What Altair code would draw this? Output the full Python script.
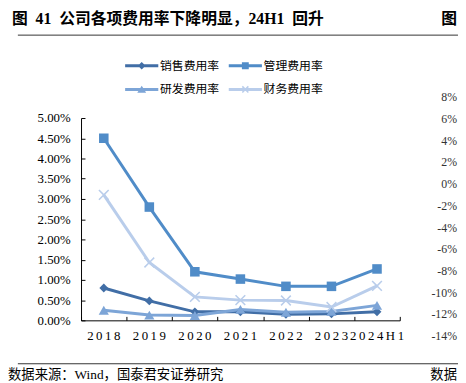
import altair as alt
import pandas as pd

# ---------------- data ----------------
years = ["2018", "2019", "2020", "2021", "2022", "2023", "2024H1"]
series_names = ["销售费用率", "管理费用率", "研发费用率", "财务费用率"]
sales_rate = [0.80, 0.48, 0.21, 0.21, 0.15, 0.16, 0.21]
admin_rate = [4.50, 2.80, 1.20, 1.02, 0.84, 0.84, 1.27]
rd_rate = [0.25, 0.13, 0.12, 0.27, 0.20, 0.22, 0.37]
fin_rate = [3.10, 1.43, 0.58, 0.50, 0.49, 0.33, 0.85]
y_tick_values = [0.0, 0.005, 0.01, 0.015, 0.02, 0.025, 0.03, 0.035, 0.04, 0.045, 0.05]
right_tick_values = [8, 6, 4, 2, 0, -2, -4, -6, -8, -10, -12, -14]
right_tick_labels = ["8%", "6%", "4%", "2%", "0%", "-2%", "-4%", "-6%", "-8%", "-10%", "-12%", "-14%"]
title_text = "图\u200241\u2002公司各项费用率下降明显，24H1\u2002回升"
source_text = "数据来源：Wind，国泰君安证券研究"

colors = ["#416EA6", "#508CC8", "#7DA5D7", "#B9CDEB"]


def x_path(a, t, s=1.0):
    pts = [(-a, -a + t), (-a + t, -a), (0, -t), (a - t, -a), (a, -a + t), (t, 0),
           (a, a - t), (a - t, a), (0, t), (-a + t, a), (-a, a - t), (-t, 0)]
    return "M" + "L".join(f"{x * s:.3f},{y * s:.3f}" for x, y in pts) + "Z"


cross_path = x_path(1.0, 0.2)
point_shapes = ["diamond", "square", "triangle-up", cross_path]
point_sizes = [80, 120, 100, 110]
bar = "M-2.8,-0.25L2.8,-0.25L2.8,0.25L-2.8,0.25Z"
legend_shapes = [
    bar + "M0,-0.65L0.65,0L0,0.65L-0.65,0Z",
    bar + "M-0.58,-0.58L0.58,-0.58L0.58,0.58L-0.58,0.58Z",
    bar + "M0,-0.62L0.75,0.55L-0.75,0.55Z",
    bar + x_path(0.6, 0.18),
]

rows = []
for name, vals in zip(series_names, [sales_rate, admin_rate, rd_rate, fin_rate]):
    for yr, v in zip(years, vals):
        rows.append({"year": yr, "series": name, "value": v / 100.0})
df = pd.DataFrame(rows)

PW, PH = 323, 205
LATIN = "Liberation Serif, Noto Sans CJK SC"

color_scale = alt.Scale(domain=series_names, range=colors)
x_scale = alt.Scale(type="band", domain=years, paddingInner=0, paddingOuter=0)
y_scale = alt.Scale(domain=[0, 0.05], nice=False, zero=True)

lines = alt.Chart(df).mark_line(strokeWidth=3).encode(
    x=alt.X("year:N", sort=years, scale=x_scale, bandPosition=0.5, title=None,
            axis=alt.Axis(orient="bottom", domain=True, domainColor="#000", domainWidth=1,
                          ticks=False, tickSize=0, labelPadding=9, labelAngle=0,
                          labelFont=LATIN, labelFontSize=13, labelColor="#000",
                          labelExpr="join(split(datum.label, ''), '\u2009')", grid=False)),
    y=alt.Y("value:Q", scale=y_scale, title=None,
            axis=alt.Axis(orient="left", values=y_tick_values, format=".2%", domain=True,
                          domainColor="#000", domainWidth=1, ticks=False, tickSize=0,
                          labelPadding=11, labelFont=LATIN, labelFontSize=13,
                          labelColor="#000", grid=False)),
    color=alt.Color("series:N", scale=color_scale, legend=None),
)

points = alt.Chart(df).mark_point(filled=True, opacity=1).encode(
    x=alt.X("year:N", sort=years, scale=x_scale, bandPosition=0.5, title=None,
            axis=alt.Axis(orient="top", offset=-PH, domain=False, labels=False, ticks=True,
                          tickSize=4, tickColor="#000", tickWidth=1, tickBand="extent",
                          grid=False)),
    y=alt.Y("value:Q", scale=y_scale, title=None,
            axis=alt.Axis(orient="right", offset=-PW, values=y_tick_values, domain=False,
                          labels=False, ticks=True, tickSize=4, tickColor="#000",
                          tickWidth=1, grid=False)),
    color=alt.Color("series:N", scale=color_scale, legend=None),
    shape=alt.Shape("series:N", scale=alt.Scale(domain=series_names, range=point_shapes), legend=None),
    size=alt.Size("series:N", scale=alt.Scale(domain=series_names, range=point_sizes), legend=None),
)

leg = alt.Legend(orient="none", legendX=55.5, legendY=-59, columns=2, direction="horizontal",
                 title=None, symbolSize=144, symbolStrokeWidth=0, labelOffset=12.5,
                 columnPadding=9, rowPadding=12, padding=0, labelFont="Noto Sans CJK SC",
                 labelFontSize=12, labelColor="#000", symbolOpacity=1)

legend_layer = alt.Chart(df).mark_point(filled=True).encode(
    color=alt.Color("series:N", scale=alt.Scale(domain=series_names, range=colors), legend=leg),
    shape=alt.Shape("series:N", scale=alt.Scale(domain=series_names, range=legend_shapes), legend=leg),
).transform_filter("false")

right_df = pd.DataFrame({"v": right_tick_values, "lab": right_tick_labels})
right_labels = alt.Chart(right_df).mark_text(align="right", baseline="middle", font=LATIN,
                                             fontSize=12, color="#333").encode(
    x=alt.value(381),
    y=alt.Y("v:Q", scale=alt.Scale(domain=[-12.545, 6.091], nice=False, zero=False), axis=None),
    text="lab:N",
)

one = pd.DataFrame({"t": [title_text]})
title_mark = alt.Chart(one).mark_text(align="left", baseline="middle", font=LATIN,
                                      fontSize=16, fontWeight="bold", color="#000").encode(
    x=alt.value(-70), y=alt.value(-100), text="t:N")
fig_right = alt.Chart(pd.DataFrame({"t": ["图"]})).mark_text(
    align="right", baseline="middle", font=LATIN, fontSize=16, fontWeight="bold",
    color="#000").encode(x=alt.value(381), y=alt.value(-100), text="t:N")
top_rule = alt.Chart(one).mark_rule(color="#333", strokeWidth=1).encode(
    x=alt.value(-64), x2=alt.value(382), y=alt.value(-84))
bottom_rule = alt.Chart(one).mark_rule(color="#333", strokeWidth=1).encode(
    x=alt.value(-64), x2=alt.value(382), y=alt.value(249))
source_mark = alt.Chart(pd.DataFrame({"t": [source_text]})).mark_text(
    align="left", baseline="middle", font=LATIN, fontSize=13.5, color="#000").encode(
    x=alt.value(-74), y=alt.value(260), text="t:N")
source_right = alt.Chart(pd.DataFrame({"t": ["数据"]})).mark_text(
    align="right", baseline="middle", font=LATIN, fontSize=13.5, color="#000").encode(
    x=alt.value(381), y=alt.value(260), text="t:N")

chart = alt.layer(
    lines, points, legend_layer, right_labels,
    title_mark, fig_right, top_rule, bottom_rule, source_mark, source_right,
).resolve_scale(
    y="independent", shape="independent", size="independent", color="independent"
).resolve_axis(
    x="independent", y="independent"
).properties(
    width=PW, height=PH,
    autosize=alt.AutoSizeParams(type="none"),
    padding={"left": 74, "top": 109, "right": 59, "bottom": 61},
    background="white",
).configure_view(stroke=None)

chart.save("out.html", embed_options={"renderer": "svg", "actions": False})
